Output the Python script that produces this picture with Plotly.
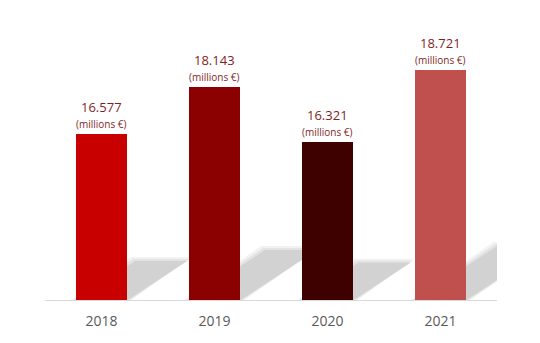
import plotly.graph_objects as go

years = ["2018", "2019", "2020", "2021"]
values = [16.577, 18.143, 16.321, 18.721]
value_labels = ["16.577", "18.143", "16.321", "18.721"]
unit_label = "(millions €)"
bar_colors = ["#C80000", "#8B0000", "#3F0000", "#C0504D"]

Y_MIN, Y_MAX = 11.016, 20.363
L, R, T, B = 45, 43, 21, 43
W, H = 540, 343
plot_w = W - L - R
plot_h = H - T - B
px_x = plot_w / 4.0          # pixels per category unit
px_y = plot_h / (Y_MAX - Y_MIN)  # pixels per data unit
BAR_W = 0.46

fig = go.Figure()

# soft shadows cast to the upper right of each bar
shapes = []
a, b = 0.36, 0.235
for i, v in enumerate(values):
    hpx = (v - Y_MIN) * px_y
    dx = a * hpx / px_x
    dy = b * hpx / px_y
    xl, xr = i - BAR_W / 2, i + BAR_W / 2
    for grow, col in [(4.0, "#f2f2f2"), (2.0, "#e3e3e3"), (0.0, "#d2d2d2")]:
        gx, gy = grow / px_x, grow / px_y
        pts = [(xr + gx, Y_MIN), (xr + dx + gx, Y_MIN + dy + gy),
               (xl + dx - gx, Y_MIN + dy + gy), (xl - gx, Y_MIN)]
        path = "M " + " L ".join(f"{x},{y}" for x, y in pts) + " Z"
        shapes.append(dict(type="path", path=path, xref="x", yref="y",
                           fillcolor=col, line=dict(width=0),
                           layer="below"))

fig.add_trace(go.Bar(
    x=list(range(len(years))), y=values, width=BAR_W,
    marker=dict(color=bar_colors, line=dict(width=0)),
    hoverinfo="skip", showlegend=False,
))

annotations = []
for i, v in enumerate(values):
    annotations.append(dict(x=i, y=v, xref="x", yref="y", text=value_labels[i],
                            showarrow=False, yanchor="middle", yshift=27,
                            font=dict(family="Open Sans", size=13, color="#7F1F1F")))
    annotations.append(dict(x=i, y=v, xref="x", yref="y", text=unit_label,
                            showarrow=False, yanchor="middle", yshift=10,
                            font=dict(family="Open Sans", size=10, color="#7F1F1F")))

fig.update_layout(
    width=W, height=H,
    margin=dict(l=L, r=R, t=T, b=B),
    paper_bgcolor="white", plot_bgcolor="white",
    shapes=shapes, annotations=annotations,
    bargap=0,
    xaxis=dict(range=[-0.5, 3.5], tickmode="array",
               tickvals=list(range(len(years))), ticktext=years,
               showgrid=False, zeroline=False, showline=True,
               linecolor="#d9d9d9", linewidth=1, ticks="",
               ticklabelstandoff=8,
               tickfont=dict(family="Open Sans", size=14, color="#595959")),
    yaxis=dict(range=[Y_MIN, Y_MAX], visible=False, showgrid=False,
               zeroline=False),
)

fig.write_html("out.html")
